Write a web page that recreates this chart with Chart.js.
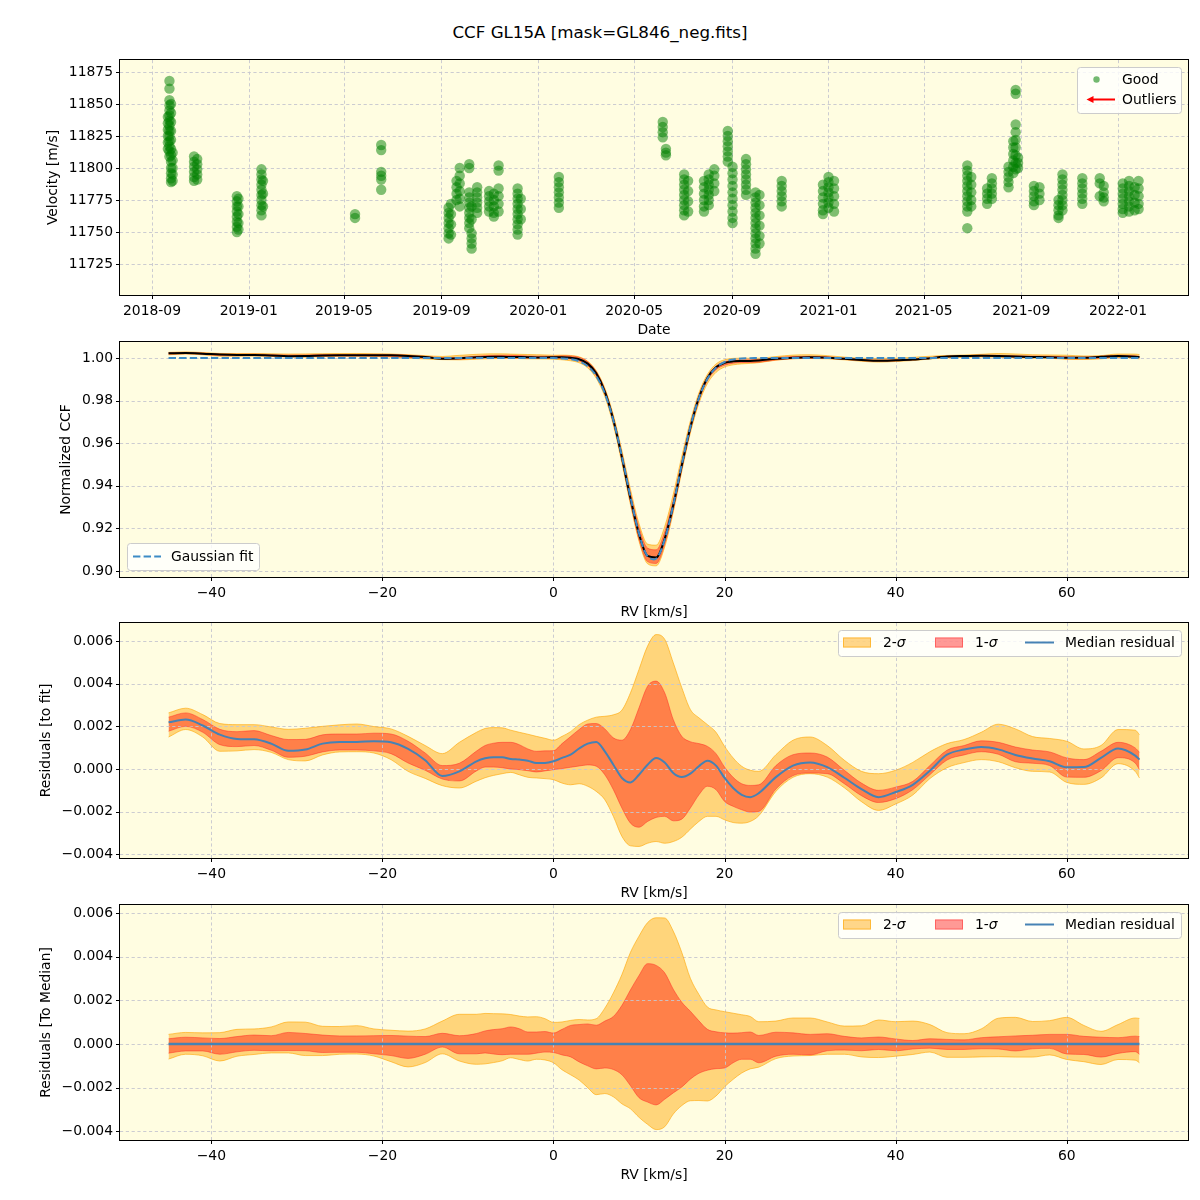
<!DOCTYPE html>
<html><head><meta charset="utf-8">
<script src="https://cdn.jsdelivr.net/npm/chart.js@4.4.1/dist/chart.umd.min.js"></script>
<style>
html,body{margin:0;padding:0;background:#fff;}
#fig{position:relative;width:1200px;height:1200px;overflow:hidden;font-family:"DejaVu Sans",sans-serif;}
#suptitle{position:absolute;left:0;top:22px;width:1200px;text-align:center;font-size:16.7px;line-height:20px;color:#000;}
canvas{position:absolute;left:0;}
</style></head><body>
<div id="fig">
<div id="suptitle"></div>
<canvas id="c1" width="1200" height="303" style="top:42px"></canvas>
<canvas id="c2" width="1200" height="303" style="top:324px"></canvas>
<canvas id="c3" width="1200" height="303" style="top:605px"></canvas>
<canvas id="c4" width="1200" height="303" style="top:887px"></canvas>
</div>
<script>
// ---------------- DATA ----------------
const figureTitle = 'CCF GL15A [mask=GL846_neg.fits]';

// Panel 1: velocity time series (nights and their RV measurements, m/s)
const nightDates = [
 '2018-09-21','2018-09-23','2018-09-25','2018-09-27','2018-10-24','2018-10-28','2018-12-17','2018-12-19',
 '2019-01-17','2019-01-19','2019-05-15','2019-06-17','2019-09-10','2019-09-13','2019-09-20','2019-09-24',
 '2019-10-06','2019-10-09','2019-10-16','2019-10-31','2019-11-06','2019-11-12','2019-12-06','2019-12-10',
 '2020-01-27','2020-06-06','2020-06-10','2020-07-03','2020-07-08','2020-07-28','2020-08-03','2020-08-10',
 '2020-08-27','2020-09-02','2020-09-19','2020-10-01','2020-10-06','2020-11-03','2020-12-25','2021-01-01',
 '2021-01-08','2021-06-25','2021-06-30','2021-07-20','2021-07-26','2021-08-16','2021-08-22','2021-08-25',
 '2021-08-28','2021-09-17','2021-09-24','2021-10-18','2021-10-23','2021-11-17','2021-12-09','2021-12-14',
 '2022-01-07','2022-01-15','2022-01-22','2022-01-27'
];
const nightVelocities = [
 [11840,11835,11830,11825,11820,11815],
 [11868,11862,11853,11849,11845,11841,11837,11833,11829,11825,11821,11817,11813,11809],
 [11850,11843,11836,11829,11822,11815,11810,11805,11800,11796,11792,11789],
 [11812,11806,11800,11795,11790],
 [11809,11805,11801,11797,11793,11790],
 [11807,11803,11799,11795,11791],
 [11778,11774,11770,11766,11762,11758,11754,11750],
 [11776,11770,11764,11757,11752],
 [11799,11795,11791,11787,11783,11779,11775,11771,11767,11763],
 [11790,11780,11770],
 [11764,11761],
 [11818,11814,11797,11794,11791,11783],
 [11769,11765,11761,11757,11753,11749,11745],
 [11772,11764,11756,11748],
 [11775,11780,11785,11790],
 [11770,11776,11782,11788,11794,11800],
 [11803,11800,11781,11777,11773,11769,11765,11761,11757,11753],
 [11749,11745,11741,11737,11770,11760],
 [11785,11781,11777,11773,11769,11765],
 [11782,11778,11774,11770,11766],
 [11780,11775,11770,11765,11762],
 [11802,11798,11784,11778,11772,11766],
 [11784,11780,11776,11772,11768,11764,11760,11756,11752,11748],
 [11776,11768,11760],
 [11793,11789,11785,11781,11777,11773,11769],
 [11836,11832,11828,11824],
 [11815,11812,11810],
 [11795,11791,11787,11783,11779,11775,11771,11767,11763],
 [11790,11782,11774,11766],
 [11790,11785,11780,11775,11770,11766],
 [11795,11791,11787,11783,11779,11775,11771],
 [11799,11794,11788,11782],
 [11829,11825,11821,11817,11813,11809,11805],
 [11801,11796,11791,11786,11781,11776,11771,11766,11761,11757],
 [11807,11803,11799,11795,11791,11787,11783,11779],
 [11781,11777,11773,11769,11765,11761,11757,11753,11749,11745,11741,11737,11733],
 [11779,11771,11763,11755,11747,11741],
 [11790,11786,11782,11778,11774,11770],
 [11787,11782,11777,11772,11767,11764],
 [11793,11789,11785,11781,11777,11773,11769],
 [11790,11784,11778,11772,11766],
 [11802,11798,11794,11790,11786,11782,11778,11774,11770,11766,11753],
 [11793,11787,11781,11775,11770],
 [11784,11780,11776,11772],
 [11792,11788,11784,11780,11776],
 [11785,11789,11793,11797,11801],
 [11796,11801,11806,11811,11816,11821],
 [11861,11858,11834,11828,11822,11816,11810,11804,11799],
 [11800,11804,11808],
 [11786,11782,11778,11774,11771],
 [11785,11780,11775],
 [11775,11771,11767,11763,11761],
 [11795,11791,11787,11783,11779,11775,11771,11767],
 [11792,11788,11784,11780,11776,11772],
 [11792,11788,11778],
 [11786,11781,11777,11774],
 [11788,11784,11780,11776,11772,11768,11765],
 [11790,11786,11782,11778,11774,11770,11766],
 [11785,11779,11773,11767],
 [11790,11784,11778,11772,11768]
];
const dateTickLabels = ['2018-09','2019-01','2019-05','2019-09','2020-01','2020-05','2020-09','2021-01','2021-05','2021-09','2022-01'];
const dateAxisRange = ['2018-07-22T15:36:00Z','2022-03-30T07:12:00Z'];
const velocityTicks = [11725,11750,11775,11800,11825,11850,11875];
const velocityRange = [11700.8, 11884.4];
const legendLabelsVelocity = ['Good','Outliers'];

// Panels 2-4: CCF profile and residual statistics vs RV (km/s)
const rvGrid = [-45,-43,-41,-39,-37,-35,-33,-31,-29,-27,-25,-23,-21,-19,-17,-15,-13,-11,-9,
 -8,-7,-6,-5,-4,-3,-2,-1,0,1,2,3,4,5,6,7,8,9,10,11,12,13,14,15,16,17,18,19,20,21,22,23,24,
 26,28,30,32,34,36,38,40,42,44,46,48,50,52,54,56,58,60,62,64,66,68,68.5];
const gaussianFit = [1,1,1,1,1,1,1,1,1,1,1,1,1,1,1,1,1,1,1,
 1,1,1,1,1,1,1,1,0.99995,0.99981,0.99943,0.99844,0.99616,0.99155,0.98337,0.97068,0.95375,0.93474,0.91760,0.90688,0.90584,0.91480,0.93102,0.95002,0.96760,0.98120,0.99024,0.99547,0.99812,0.99930,0.99977,0.99993,1,
 1,1,1,1,1,1,1,1,1,1,1,1,1,1,1,1,1,1,1,1,1,1,1];
// residuals to fit, in units of 1e-3
const residualUnit = 1e-3;
const medianResidual = [2.19,2.32,2.04,1.61,1.41,1.39,1.19,0.85,0.91,1.19,1.27,1.27,1.30,1.25,0.94,0.41,-0.33,-0.11,0.36,
 0.50,0.55,0.55,0.47,0.44,0.39,0.28,0.28,0.36,0.52,0.67,0.96,1.19,1.27,0.83,0.20,-0.42,-0.63,-0.27,0.20,0.52,0.31,-0.19,-0.38,-0.22,0.13,0.39,0.16,-0.42,-0.89,-1.21,-1.32,-1.13,
 -0.38,0.16,0.31,0.09,-0.41,-0.94,-1.32,-1.08,-0.74,-0.08,0.67,0.91,1.03,0.92,0.66,0.49,0.36,0.08,0.09,0.52,0.96,0.63,0.44];
const sigma2Upper = [2.63,2.85,2.55,2.13,2.08,2.08,1.97,1.86,1.91,2.00,2.07,2.11,1.99,1.88,1.53,1.10,0.72,1.25,1.72,
 1.90,1.94,1.93,1.82,1.72,1.63,1.53,1.44,1.35,1.53,1.75,2.08,2.29,2.43,2.47,2.54,2.76,3.57,4.67,5.76,6.30,6.08,4.98,3.81,2.79,2.40,2.08,1.72,1.06,0.52,0.13,-0.06,-0.11,
 0.67,1.35,1.50,1.10,0.41,-0.11,-0.22,-0.06,0.31,0.81,1.19,1.38,1.72,2.10,1.88,1.52,1.43,1.30,0.94,1.10,1.85,1.82,1.61];
const sigma2Lower = [1.50,1.85,1.50,0.83,0.85,0.91,0.78,0.44,0.38,0.66,0.80,0.81,0.75,0.44,-0.11,-0.44,-0.78,-0.89,-0.57,
 -0.41,-0.30,-0.22,-0.16,-0.27,-0.39,-0.42,-0.45,-0.50,-0.66,-0.74,-0.69,-0.81,-1.05,-1.44,-2.22,-3.16,-3.60,-3.63,-3.48,-3.40,-3.48,-3.40,-3.20,-2.82,-2.46,-2.22,-2.22,-2.38,-2.51,-2.54,-2.46,-2.19,
 -1.05,-0.39,-0.22,-0.38,-0.88,-1.53,-1.94,-1.64,-1.22,-0.45,0.06,0.30,0.44,0.34,0.06,-0.11,-0.14,-0.63,-0.72,-0.42,0.25,-0.11,-0.42];
const sigma1Upper = [2.43,2.63,2.32,1.86,1.75,1.80,1.57,1.38,1.39,1.60,1.64,1.64,1.68,1.64,1.30,0.75,0.16,0.27,0.84,
 1.10,1.21,1.25,1.25,1.14,0.94,0.83,0.85,0.86,1.19,1.52,1.85,2.11,2.13,1.88,1.46,1.35,1.85,2.87,3.88,4.12,3.57,2.32,1.53,1.28,1.19,1.06,0.72,0.09,-0.39,-0.69,-0.77,-0.74,
 0.16,0.67,0.75,0.56,-0.06,-0.66,-1.00,-0.85,-0.58,0.16,0.88,1.10,1.32,1.25,1.03,0.89,0.80,0.52,0.44,0.83,1.25,0.99,0.78];
const sigma1Lower = [1.77,2.00,1.72,1.14,1.05,1.10,0.88,0.55,0.60,0.80,0.89,0.89,0.85,0.72,0.28,-0.06,-0.47,-0.56,-0.09,
 0.09,0.09,0.06,0.00,-0.03,-0.08,-0.14,-0.09,-0.03,0.02,0.08,0.14,0.19,0.13,-0.27,-0.97,-1.83,-2.54,-2.73,-2.46,-2.27,-2.22,-2.43,-2.35,-1.83,-1.21,-0.81,-0.97,-1.52,-1.75,-1.91,-2.02,-1.99,
 -0.94,-0.31,-0.19,-0.22,-0.69,-1.25,-1.57,-1.39,-0.97,-0.27,0.42,0.66,0.81,0.69,0.34,0.27,0.16,-0.38,-0.39,-0.08,0.53,0.28,-0.03];
const rvTicks = [-40,-20,0,20,40,60];
const rvRange = [-50.675, 74.175];
const ccfTicks = [0.90,0.92,0.94,0.96,0.98,1.00];
const ccfRange = [0.8972, 1.0075];
const residTicks = [-0.004,-0.002,0,0.002,0.004,0.006];
const residFitRange = [-0.004172, 0.006844];
const residMedRange = [-0.004397, 0.006366];
const legendLabelsCcf = ['Gaussian fit'];
const legendLabelsResid = ['2-\u03c3','1-\u03c3','Median residual'];
const axisTitles = {
  date: 'Date', rv: 'RV [km/s]', velocity: 'Velocity [m/s]', ccf: 'Normalized CCF',
  residFit: 'Residuals [to fit]', residMed: 'Residuals [To Median]'
};

// ---------------- STYLE / HELPERS ----------------
document.getElementById('suptitle').textContent = figureTitle;
const FAM = '"DejaVu Sans", sans-serif';
const FS = 13.9;
const FONT = {family: FAM, size: FS, lineHeight: 1.2};
Chart.defaults.font.family = FAM;
Chart.defaults.font.size = FS;
Chart.defaults.color = '#000';

const C_BG = '#fffde1';
const C_GRID = '#c6c6cf';
const C_FIT = '#3d8bc6';
const C_MED = '#4682b4';
const S2_FILL = 'rgba(255,165,0,0.45)', S2_EDGE = 'rgba(255,165,0,0.6)';
const S1_FILL = 'rgba(255,0,0,0.4)', S1_EDGE = 'rgba(255,30,30,0.45)';

function fmtNum(v, d) {
  const s = Math.abs(v).toFixed(d);
  return (v < -1e-12 ? '\u2212' : '') + s;
}

const mplAxes = {
  id: 'mplAxes',
  beforeDraw(chart) {
    const {ctx, chartArea: a} = chart;
    ctx.save();
    ctx.fillStyle = C_BG;
    ctx.fillRect(a.left, a.top, a.right - a.left, a.bottom - a.top);
    ctx.restore();
  },
  beforeDatasetsDraw(chart) {
    const {ctx, chartArea: a} = chart;
    const xs = chart.scales.x, ys = chart.scales.y;
    ctx.save();
    ctx.strokeStyle = C_GRID; ctx.lineWidth = 0.9; ctx.setLineDash([3.2, 2.6]);
    for (const t of xs.ticks) {
      const px = Math.round(xs.getPixelForValue(t.value)) + 0.5;
      if (px < a.left || px > a.right) continue;
      ctx.beginPath(); ctx.moveTo(px, a.top); ctx.lineTo(px, a.bottom); ctx.stroke();
    }
    for (const t of ys.ticks) {
      const py = Math.round(ys.getPixelForValue(t.value)) + 0.5;
      if (py < a.top || py > a.bottom) continue;
      ctx.beginPath(); ctx.moveTo(a.left, py); ctx.lineTo(a.right, py); ctx.stroke();
    }
    ctx.restore();
  },
  afterDatasetsDraw(chart) {
    const {ctx, chartArea: a} = chart;
    const xs = chart.scales.x, ys = chart.scales.y;
    ctx.save();
    ctx.strokeStyle = '#000'; ctx.lineWidth = 1; ctx.setLineDash([]);
    const L = Math.round(a.left) - 0.5, R = Math.round(a.right) + 0.5;
    const T = Math.round(a.top) - 0.5, B = Math.round(a.bottom) + 0.5;
    ctx.strokeRect(L, T, R - L, B - T);
    for (const t of xs.ticks) {
      const px = Math.round(xs.getPixelForValue(t.value)) + 0.5;
      ctx.beginPath(); ctx.moveTo(px, B); ctx.lineTo(px, B + 3.5); ctx.stroke();
    }
    for (const t of ys.ticks) {
      const py = Math.round(ys.getPixelForValue(t.value)) + 0.5;
      ctx.beginPath(); ctx.moveTo(L, py); ctx.lineTo(L - 3.5, py); ctx.stroke();
    }
    ctx.restore();
  }
};

function drawRichText(ctx, str, x, y) {
  const parts = str.split(/(\u03c3)/);
  let cx = x;
  for (const p of parts) {
    if (!p) continue;
    ctx.font = (p === '\u03c3' ? 'italic ' : '') + FS + 'px ' + FAM;
    ctx.fillText(p, cx, y);
    cx += ctx.measureText(p).width;
  }
}

const mplLegend = {
  id: 'mplLegend',
  afterDraw(chart, _a, o) {
    if (!o || !o.entries) return;
    const {ctx, chartArea: a} = chart;
    const x0 = o.anchor === 'lower left' ? a.left + 7 : a.right - 7 - o.width;
    const y0 = o.anchor === 'lower left' ? a.bottom - 7 - o.height : a.top + 7;
    ctx.save();
    const r = 3, w = o.width, h = o.height;
    const bx = Math.round(x0) + 0.5, by = Math.round(y0) + 0.5;
    ctx.beginPath();
    ctx.moveTo(bx + r, by); ctx.lineTo(bx + w - r, by); ctx.arcTo(bx + w, by, bx + w, by + r, r);
    ctx.lineTo(bx + w, by + h - r); ctx.arcTo(bx + w, by + h, bx + w - r, by + h, r);
    ctx.lineTo(bx + r, by + h); ctx.arcTo(bx, by + h, bx, by + h - r, r);
    ctx.lineTo(bx, by + r); ctx.arcTo(bx, by, bx + r, by, r); ctx.closePath();
    ctx.fillStyle = 'rgba(255,255,255,0.8)'; ctx.fill();
    ctx.strokeStyle = '#cccccc'; ctx.lineWidth = 1; ctx.stroke();
    for (const e of o.entries) {
      const cy = y0 + e.cy;
      ctx.setLineDash([]);
      if (e.kind === 'dot') {
        ctx.fillStyle = e.color; ctx.beginPath(); ctx.arc(x0 + e.hx, cy, e.r, 0, Math.PI * 2); ctx.fill();
      } else if (e.kind === 'arrow') {
        ctx.strokeStyle = e.color; ctx.fillStyle = e.color; ctx.lineWidth = 2;
        ctx.beginPath(); ctx.moveTo(x0 + e.hx1, cy); ctx.lineTo(x0 + e.hx0 + 5, cy); ctx.stroke();
        ctx.beginPath(); ctx.moveTo(x0 + e.hx0, cy); ctx.lineTo(x0 + e.hx0 + 7, cy - 3.5); ctx.lineTo(x0 + e.hx0 + 7, cy + 3.5); ctx.closePath(); ctx.fill();
      } else if (e.kind === 'line') {
        ctx.strokeStyle = e.color; ctx.lineWidth = e.lw; ctx.setLineDash(e.dash || []);
        ctx.beginPath(); ctx.moveTo(x0 + e.hx0, cy); ctx.lineTo(x0 + e.hx1, cy); ctx.stroke();
        ctx.setLineDash([]);
      } else if (e.kind === 'patch') {
        ctx.fillStyle = e.fill; ctx.strokeStyle = e.edge; ctx.lineWidth = 1;
        ctx.fillRect(x0 + e.hx0, cy - 5, e.hx1 - e.hx0, 10);
        ctx.strokeRect(x0 + e.hx0 + 0.5, cy - 5 + 0.5, e.hx1 - e.hx0 - 1, 9);
      }
      ctx.fillStyle = '#000'; ctx.textBaseline = 'middle'; ctx.textAlign = 'left';
      drawRichText(ctx, e.label, x0 + e.tx, cy + 0.5);
    }
    ctx.restore();
  }
};

function makeScales(o) {
  return {
    x: {
      type: 'linear', position: 'bottom', min: o.xMin, max: o.xMax,
      afterBuildTicks: s => { s.ticks = o.xTicks.map(v => ({value: v})); },
      afterFit: s => { s.height = 50; },
      grid: {display: false, drawTicks: false},
      border: {display: false},
      ticks: {autoSkip: false, maxRotation: 0, minRotation: 0, padding: 8, font: FONT, color: '#000', callback: o.xFmt},
      title: {display: true, text: o.xTitle, font: FONT, color: '#000', padding: {top: 0, bottom: 6.2}}
    },
    y: {
      type: 'linear', position: 'left', min: o.yMin, max: o.yMax,
      afterBuildTicks: s => { s.ticks = o.yTicks.map(v => ({value: v})); },
      afterFit: s => { s.width = 120; },
      grid: {display: false, drawTicks: false},
      border: {display: false},
      ticks: {autoSkip: false, padding: 7, font: FONT, color: '#000', callback: o.yFmt},
      title: {display: true, text: o.yTitle, font: FONT, color: '#000', padding: {top: o.yTitleX - FS * 0.6, bottom: 0}}
    }
  };
}

function baseOptions(scales, legend) {
  return {
    responsive: false, animation: false, devicePixelRatio: 1, events: [],
    layout: {padding: {top: 18, right: 12, bottom: 0, left: 0}},
    plugins: {
      legend: {display: false}, tooltip: {enabled: false}, title: {display: false},
      filler: {propagate: false, drawTime: 'beforeDatasetsDraw'},
      mplLegend: legend
    },
    scales
  };
}

function lineDs(data, color, width, extra) {
  return Object.assign({data, borderColor: color, borderWidth: width, pointRadius: 0, fill: false,
    cubicInterpolationMode: 'monotone'}, extra || {});
}
function bandDs(hi1, lo1, hi2, lo2) {
  return [
    lineDs(hi1, S1_EDGE, 1, {fill: '+1', backgroundColor: S1_FILL}),
    lineDs(lo1, S1_EDGE, 1),
    lineDs(hi2, S2_EDGE, 1, {fill: '+1', backgroundColor: S2_FILL}),
    lineDs(lo2, S2_EDGE, 1)
  ];
}
const pts = f => rvGrid.map((rv, i) => ({x: rv, y: f(i)}));
const U = residualUnit;

// ---------------- PANEL 1 ----------------
const goodPoints = [];
nightDates.forEach((d, i) => nightVelocities[i].forEach(v => goodPoints.push({x: Date.parse(d + 'T00:00:00Z'), y: v})));
new Chart(document.getElementById('c1'), {
  type: 'scatter',
  data: {datasets: [{label: legendLabelsVelocity[0], data: goodPoints, backgroundColor: 'rgba(0,128,0,0.5)', borderWidth: 0, pointRadius: 5.2}]},
  options: baseOptions(makeScales({
    xMin: Date.parse(dateAxisRange[0]), xMax: Date.parse(dateAxisRange[1]),
    xTicks: dateTickLabels.map(l => Date.parse(l + '-01T00:00:00Z')),
    xFmt: (v, i) => dateTickLabels[i], xTitle: axisTitles.date,
    yMin: velocityRange[0], yMax: velocityRange[1], yTicks: velocityTicks,
    yFmt: v => String(v), yTitle: axisTitles.velocity, yTitleX: 53
  }), {anchor: 'upper right', width: 104, height: 46, entries: [
    {kind: 'dot', label: legendLabelsVelocity[0], hx: 19.5, cy: 12.5, r: 3.2, color: 'rgba(0,128,0,0.55)', tx: 45},
    {kind: 'arrow', label: legendLabelsVelocity[1], hx0: 9.5, hx1: 38, cy: 32.5, color: '#ff0000', tx: 45}
  ]}),
  plugins: [mplAxes, mplLegend]
});

// ---------------- PANEL 2 ----------------
new Chart(document.getElementById('c2'), {
  type: 'line',
  data: {datasets: [
    lineDs(pts(i => gaussianFit[i]), C_FIT, 2, {label: legendLabelsCcf[0], borderDash: [7.4, 3.2], cubicInterpolationMode: 'default', tension: 0.35}),
    lineDs(pts(i => gaussianFit[i] + medianResidual[i] * U), '#000000', 2),
    ...bandDs(pts(i => gaussianFit[i] + sigma1Upper[i] * U), pts(i => gaussianFit[i] + sigma1Lower[i] * U),
              pts(i => gaussianFit[i] + sigma2Upper[i] * U), pts(i => gaussianFit[i] + sigma2Lower[i] * U))
  ]},
  options: baseOptions(makeScales({
    xMin: rvRange[0], xMax: rvRange[1], xTicks: rvTicks, xFmt: v => fmtNum(v, 0), xTitle: axisTitles.rv,
    yMin: ccfRange[0], yMax: ccfRange[1], yTicks: ccfTicks, yFmt: v => fmtNum(v, 2), yTitle: axisTitles.ccf, yTitleX: 66
  }), {anchor: 'lower left', width: 132, height: 27, entries: [
    {kind: 'line', label: legendLabelsCcf[0], hx0: 6, hx1: 34, cy: 13.5, color: C_FIT, lw: 2, dash: [7.4, 3.2], tx: 44}
  ]}),
  plugins: [mplAxes, mplLegend]
});

// ---------------- PANELS 3 & 4 ----------------
function residLegend() {
  return {anchor: 'upper right', width: 343, height: 26, entries: [
    {kind: 'patch', label: legendLabelsResid[0], hx0: 5, hx1: 33, cy: 12.5, fill: S2_FILL, edge: S2_EDGE, tx: 45},
    {kind: 'patch', label: legendLabelsResid[1], hx0: 97, hx1: 125, cy: 12.5, fill: S1_FILL, edge: S1_EDGE, tx: 137},
    {kind: 'line', label: legendLabelsResid[2], hx0: 187, hx1: 216, cy: 12.5, color: C_MED, lw: 2, tx: 227}
  ]};
}
new Chart(document.getElementById('c3'), {
  type: 'line',
  data: {datasets: [
    lineDs(pts(i => medianResidual[i] * U), C_MED, 2, {label: legendLabelsResid[2]}),
    ...bandDs(pts(i => sigma1Upper[i] * U), pts(i => sigma1Lower[i] * U), pts(i => sigma2Upper[i] * U), pts(i => sigma2Lower[i] * U))
  ]},
  options: baseOptions(makeScales({
    xMin: rvRange[0], xMax: rvRange[1], xTicks: rvTicks, xFmt: v => fmtNum(v, 0), xTitle: axisTitles.rv,
    yMin: residFitRange[0], yMax: residFitRange[1], yTicks: residTicks, yFmt: v => fmtNum(v, 3), yTitle: axisTitles.residFit, yTitleX: 46
  }), residLegend()),
  plugins: [mplAxes, mplLegend]
});
new Chart(document.getElementById('c4'), {
  type: 'line',
  data: {datasets: [
    lineDs(pts(i => (medianResidual[i] - medianResidual[i]) * U), C_MED, 2.5, {label: legendLabelsResid[2]}),
    ...bandDs(pts(i => (sigma1Upper[i] - medianResidual[i]) * U), pts(i => (sigma1Lower[i] - medianResidual[i]) * U),
              pts(i => (sigma2Upper[i] - medianResidual[i]) * U), pts(i => (sigma2Lower[i] - medianResidual[i]) * U))
  ]},
  options: baseOptions(makeScales({
    xMin: rvRange[0], xMax: rvRange[1], xTicks: rvTicks, xFmt: v => fmtNum(v, 0), xTitle: axisTitles.rv,
    yMin: residMedRange[0], yMax: residMedRange[1], yTicks: residTicks, yFmt: v => fmtNum(v, 3), yTitle: axisTitles.residMed, yTitleX: 46
  }), residLegend()),
  plugins: [mplAxes, mplLegend]
});
</script>
</body></html>
